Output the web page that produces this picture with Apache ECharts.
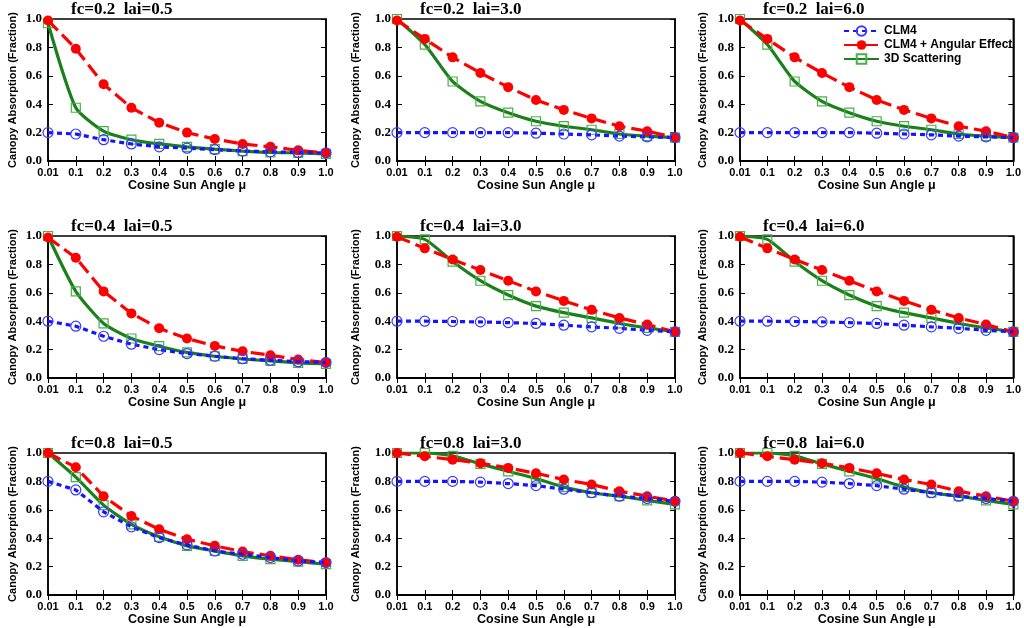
<!DOCTYPE html>
<html>
<head>
<meta charset="utf-8">
<script src="https://cdn.jsdelivr.net/npm/echarts@6/dist/echarts.min.js"></script>
<style>html,body{margin:0;padding:0;background:#fff;}#c{width:1024px;height:628px;}</style>
</head>
<body>
<div id="c"></div>
<script>
// ---- categories / ticks ----
const muCats = ['0.01','0.1','0.2','0.3','0.4','0.5','0.6','0.7','0.8','0.9','1.0'];
const fcVals = ['0.2','0.4','0.8'];
const laiVals = ['0.5','3.0','6.0'];
const seriesNames = ['CLM4','CLM4 + Angular Effect','3D Scattering'];

// ---- fc=0.2 ----
const clm4_fc02_lai05  = [0.20,0.19,0.15,0.12,0.10,0.09,0.08,0.07,0.065,0.06,0.057];
const ang_fc02_lai05   = [0.99,0.79,0.54,0.375,0.27,0.20,0.155,0.12,0.10,0.075,0.057];
const sc3d_fc02_lai05  = [0.97,0.375,0.21,0.15,0.12,0.10,0.083,0.07,0.06,0.057,0.05];

const clm4_fc02_lai30  = [0.20,0.20,0.20,0.20,0.20,0.196,0.19,0.184,0.175,0.17,0.165];
const ang_fc02_lai30   = [0.99,0.86,0.73,0.62,0.52,0.43,0.36,0.30,0.245,0.21,0.165];
const sc3d_fc02_lai30  = [1.0,0.82,0.56,0.42,0.34,0.28,0.245,0.22,0.19,0.175,0.165];

const clm4_fc02_lai60  = [0.20,0.20,0.20,0.20,0.20,0.196,0.19,0.184,0.175,0.17,0.165];
const ang_fc02_lai60   = [0.99,0.86,0.73,0.62,0.52,0.43,0.36,0.30,0.245,0.21,0.165];
const sc3d_fc02_lai60  = [1.0,0.82,0.56,0.42,0.34,0.28,0.245,0.22,0.19,0.175,0.165];

// ---- fc=0.4 ----
const clm4_fc04_lai05  = [0.40,0.365,0.294,0.238,0.20,0.172,0.153,0.136,0.125,0.115,0.11];
const ang_fc04_lai05   = [0.99,0.847,0.61,0.455,0.35,0.278,0.226,0.188,0.16,0.13,0.108];
const sc3d_fc04_lai05  = [1.0,0.61,0.384,0.278,0.224,0.18,0.153,0.134,0.12,0.106,0.10];

const clm4_fc04_lai30  = [0.40,0.40,0.398,0.395,0.39,0.384,0.372,0.36,0.35,0.336,0.325];
const ang_fc04_lai30   = [0.995,0.913,0.835,0.76,0.685,0.61,0.543,0.48,0.423,0.376,0.325];
const sc3d_fc04_lai30  = [1.0,0.976,0.82,0.685,0.584,0.506,0.46,0.423,0.384,0.353,0.325];

const clm4_fc04_lai60  = [0.40,0.40,0.398,0.395,0.39,0.384,0.372,0.36,0.35,0.336,0.325];
const ang_fc04_lai60   = [0.995,0.913,0.835,0.76,0.685,0.61,0.543,0.48,0.423,0.376,0.325];
const sc3d_fc04_lai60  = [1.0,0.976,0.82,0.685,0.584,0.506,0.46,0.423,0.384,0.353,0.325];

// ---- fc=0.8 ----
const clm4_fc08_lai05  = [0.80,0.74,0.586,0.48,0.404,0.353,0.31,0.287,0.264,0.24,0.229];
const ang_fc08_lai05   = [1.0,0.90,0.696,0.556,0.463,0.393,0.346,0.306,0.276,0.248,0.227];
const sc3d_fc08_lai05  = [1.0,0.83,0.633,0.498,0.41,0.346,0.31,0.276,0.252,0.234,0.217];

const clm4_fc08_lai30  = [0.80,0.80,0.80,0.795,0.785,0.77,0.745,0.72,0.696,0.68,0.66];
const ang_fc08_lai30   = [1.0,0.977,0.953,0.928,0.895,0.857,0.813,0.778,0.731,0.696,0.661];
const sc3d_fc08_lai30  = [1.0,1.0,0.98,0.923,0.871,0.82,0.76,0.72,0.696,0.666,0.638];

const clm4_fc08_lai60  = [0.80,0.80,0.80,0.795,0.785,0.77,0.745,0.72,0.696,0.68,0.66];
const ang_fc08_lai60   = [1.0,0.977,0.953,0.928,0.895,0.857,0.813,0.778,0.731,0.696,0.661];
const sc3d_fc08_lai60  = [1.0,1.0,0.98,0.923,0.871,0.82,0.76,0.72,0.696,0.666,0.638];

const panels = [
  [clm4_fc02_lai05, ang_fc02_lai05, sc3d_fc02_lai05],
  [clm4_fc02_lai30, ang_fc02_lai30, sc3d_fc02_lai30],
  [clm4_fc02_lai60, ang_fc02_lai60, sc3d_fc02_lai60],
  [clm4_fc04_lai05, ang_fc04_lai05, sc3d_fc04_lai05],
  [clm4_fc04_lai30, ang_fc04_lai30, sc3d_fc04_lai30],
  [clm4_fc04_lai60, ang_fc04_lai60, sc3d_fc04_lai60],
  [clm4_fc08_lai05, ang_fc08_lai05, sc3d_fc08_lai05],
  [clm4_fc08_lai30, ang_fc08_lai30, sc3d_fc08_lai30],
  [clm4_fc08_lai60, ang_fc08_lai60, sc3d_fc08_lai60]
];

// ---- layout ----
const gridLefts = [48, 397, 740];
const gridTops = [19, 236, 453];
const gridW = 278, gridH = 142;
const yNameGaps = [30, 36, 32];

const SERIF = '"Liberation Serif", "Times New Roman", serif';
const SANS = '"Liberation Sans", Arial, Helvetica, sans-serif';

const blue = '#1414ff', red = '#ff0000', green = '#1b801b', greenMk = '#49b049';

const grids = [], xAxes = [], yAxes = [], titles = [], series = [];
for (let r = 0; r < 3; r++) {
  for (let c = 0; c < 3; c++) {
    const i = r * 3 + c;
    grids.push({ left: gridLefts[c], top: gridTops[r], width: gridW, height: gridH,
      show: true, borderColor: '#000', borderWidth: 1.5, backgroundColor: 'transparent' });
    titles.push({ text: 'fc=' + fcVals[r] + '  lai=' + laiVals[c],
      left: gridLefts[c] + 23, top: gridTops[r] - 18, padding: 0,
      textStyle: { fontFamily: SERIF, fontWeight: 'bold', fontSize: 17, color: '#000' } });
    // bottom x axis
    xAxes.push({ type: 'category', gridIndex: i, data: muCats, boundaryGap: false, position: 'bottom',
      name: 'Cosine Sun Angle \u03bc', nameLocation: 'middle', nameGap: 17,
      nameTextStyle: { fontFamily: SANS, fontWeight: 'bold', fontSize: 12.5, color: '#000' },
      axisLine: { lineStyle: { color: '#000', width: 1.5 } },
      axisTick: { inside: true, length: 5, lineStyle: { color: '#000', width: 1 } },
      axisLabel: { fontFamily: SANS, fontWeight: 'bold', fontSize: 11, color: '#000', margin: 6, interval: 0 },
      splitLine: { show: false } });
    // top x axis (mirrored ticks)
    xAxes.push({ type: 'category', gridIndex: i, data: muCats, boundaryGap: false, position: 'top',
      axisLine: { lineStyle: { color: '#000', width: 1.5 } },
      axisTick: { inside: true, length: 5, interval: 0, lineStyle: { color: '#000', width: 1 } },
      axisLabel: { show: false }, splitLine: { show: false } });
    // left y axis
    yAxes.push({ type: 'value', gridIndex: i, min: 0, max: 1, interval: 0.2, position: 'left',
      name: 'Canopy Absorption (Fraction)', nameLocation: 'middle', nameGap: yNameGaps[c],
      nameTextStyle: { fontFamily: SANS, fontWeight: 'bold', fontSize: 11, color: '#000' },
      axisLine: { show: true, lineStyle: { color: '#000', width: 1.5 } },
      axisTick: { show: true, inside: true, length: 5, lineStyle: { color: '#000', width: 1 } },
      axisLabel: { fontFamily: SERIF, fontWeight: 'bold', fontSize: 13, color: '#000', margin: 6,
        formatter: v => v.toFixed(1) },
      splitLine: { show: false } });
    // right y axis (mirrored ticks)
    yAxes.push({ type: 'value', gridIndex: i, min: 0, max: 1, interval: 0.2, position: 'right',
      axisLine: { show: true, lineStyle: { color: '#000', width: 1.5 } },
      axisTick: { show: true, inside: true, length: 5, lineStyle: { color: '#000', width: 1 } },
      axisLabel: { show: false }, splitLine: { show: false } });

    const [b, rd, g] = panels[i];
    series.push({ name: seriesNames[2], type: 'line', xAxisIndex: 2 * i, yAxisIndex: 2 * i, data: g,
      smooth: 0.2, symbol: 'rect', symbolSize: 9, z: 2,
      lineStyle: { color: green, width: 3.2 },
      itemStyle: { color: 'rgba(255,255,255,0)', borderColor: greenMk, borderWidth: 1.2 } });
    series.push({ name: seriesNames[1], type: 'line', xAxisIndex: 2 * i, yAxisIndex: 2 * i, data: rd,
      symbol: 'circle', symbolSize: 10, z: 3,
      lineStyle: { color: red, width: 3.2, type: [14, 6] },
      itemStyle: { color: red, borderColor: red, borderWidth: 0 } });
    series.push({ name: seriesNames[0], type: 'line', xAxisIndex: 2 * i, yAxisIndex: 2 * i, data: b,
      symbol: 'circle', symbolSize: 10, z: 4,
      lineStyle: { color: blue, width: 3.2, type: [5, 4] },
      itemStyle: { color: 'rgba(255,255,255,0)', borderColor: '#3a3aff', borderWidth: 1.2 } });
  }
}

const chart = echarts.init(document.getElementById('c'), null, { renderer: 'canvas' });
chart.setOption({
  animation: false,
  backgroundColor: '#fff',
  title: titles,
  grid: grids,
  xAxis: xAxes,
  yAxis: yAxes,
  legend: {
    data: seriesNames, orient: 'vertical', left: 843, top: 25,
    itemWidth: 35, itemHeight: 12, itemGap: 2, padding: 0,
    textStyle: { fontFamily: SANS, fontWeight: 'bold', fontSize: 12, color: '#000' }
  },
  series: series
});
</script>
</body>
</html>
